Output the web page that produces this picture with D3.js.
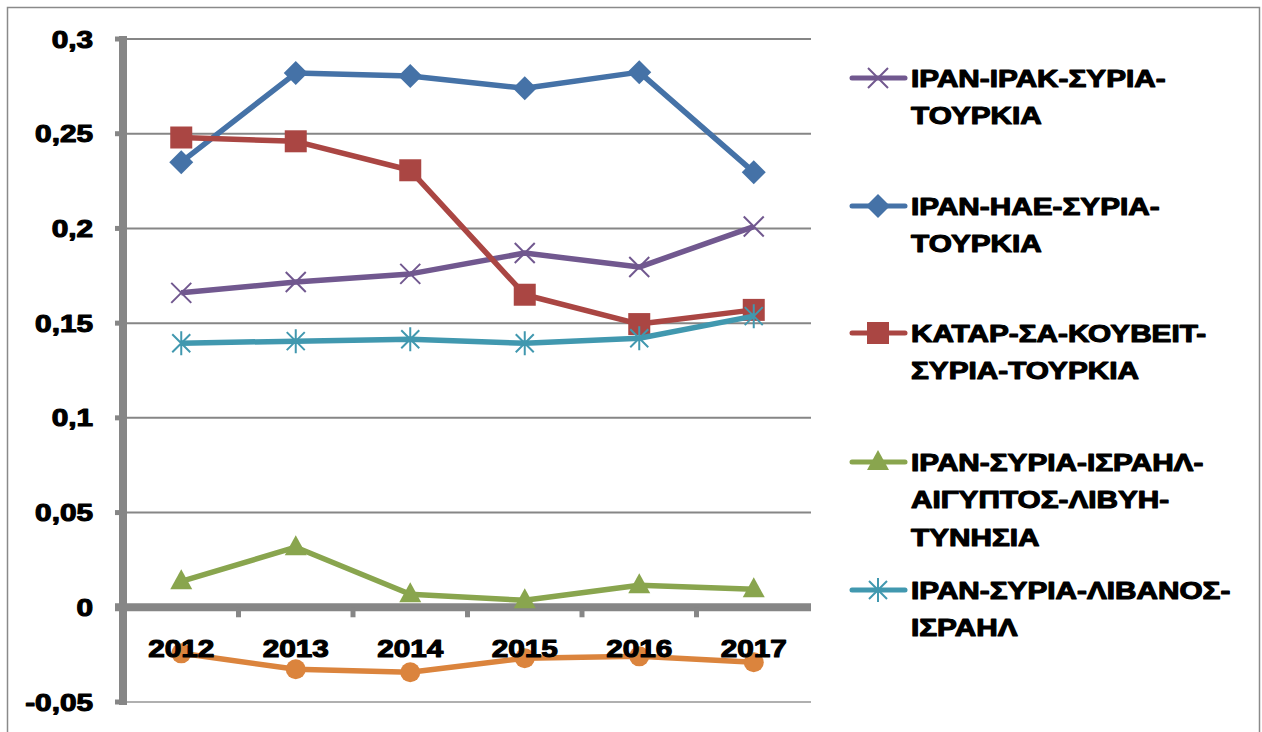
<!DOCTYPE html>
<html>
<head>
<meta charset="utf-8">
<script src="https://cdn.jsdelivr.net/npm/d3@7"></script>
<style>
  body { margin: 0; background: #fff; }
  .lbl { font-family: "Liberation Sans", Arial, sans-serif; font-weight: bold; fill: #000;
         stroke: #000; stroke-width: 1.1px; stroke-linejoin: round; }
</style>
</head>
<body>
<svg id="chart" width="1262" height="732"></svg>
<script>
// data
var years = ["2012", "2013", "2014", "2015", "2016", "2017"];
var yTicks = [0.3, 0.25, 0.2, 0.15, 0.1, 0.05, 0, -0.05];

var iranIraq    = [0.166, 0.1717, 0.176, 0.187, 0.1796, 0.201];
var iranUae     = [0.235, 0.282, 0.2805, 0.274, 0.2825, 0.2297];
var qatarSa     = [0.248, 0.246, 0.2307, 0.165, 0.1495, 0.157];
var iranEgypt   = [0.0137, 0.0317, 0.0069, 0.0037, 0.0116, 0.0095];
var iranLebanon = [0.1394, 0.1405, 0.1415, 0.1394, 0.142, 0.1537];
var unnamed     = [-0.0243, -0.0327, -0.0343, -0.0269, -0.0259, -0.029];

var legendLabels = [
  ["ΙΡΑΝ-ΙΡΑΚ-ΣΥΡΙΑ-", "ΤΟΥΡΚΙΑ"],
  ["ΙΡΑΝ-ΗΑΕ-ΣΥΡΙΑ-", "ΤΟΥΡΚΙΑ"],
  ["ΚΑΤΑΡ-ΣΑ-ΚΟΥΒΕΙΤ-", "ΣΥΡΙΑ-ΤΟΥΡΚΙΑ"],
  ["ΙΡΑΝ-ΣΥΡΙΑ-ΙΣΡΑΗΛ-", "ΑΙΓΥΠΤΟΣ-ΛΙΒΥΗ-", "ΤΥΝΗΣΙΑ"],
  ["ΙΡΑΝ-ΣΥΡΙΑ-ΛΙΒΑΝΟΣ-", "ΙΣΡΑΗΛ"]
];

var series = [
  { values: iranIraq,    color: "#71588F", marker: "x",        legend: 0 },
  { values: iranUae,     color: "#4572A7", marker: "diamond",  legend: 1 },
  { values: qatarSa,     color: "#AA4643", marker: "square",   legend: 2 },
  { values: iranEgypt,   color: "#89A54E", marker: "triangle", legend: 3 },
  { values: iranLebanon, color: "#4198AF", marker: "star",     legend: 4 },
  { values: unnamed,     color: "#DB843D", marker: "circle",   legend: null }
];

var svg = d3.select("#chart");
var axisGray = "#868686";
var stretch = 1.24; // the source text is wide and heavy

// writes a horizontally stretched bold label
function label(parent, tx, ty, str, anchor, size) {
  return parent.append("g")
    .attr("transform", "translate(" + tx + "," + ty + ") scale(" + stretch + ",1)")
    .append("text")
    .attr("class", "lbl")
    .attr("text-anchor", anchor)
    .style("font-size", size + "px")
    .text(str);
}

// outer frame
svg.append("rect")
  .attr("x", 7.5).attr("y", 7.5)
  .attr("width", 1252).attr("height", 740)
  .attr("fill", "none")
  .attr("stroke", "#8a8a8a")
  .attr("stroke-width", 1.5);

var plot = { left: 124, right: 811, top: 39, bottom: 702 };

var x = d3.scaleBand().domain(years).range([plot.left, plot.right]);
var y = d3.scaleLinear().domain([-0.05, 0.3]).range([plot.bottom, plot.top]);
var fmt = function(v) { return String(+v.toFixed(2)).replace(".", ","); };
var cx = function(i) { return x(years[i]) + x.bandwidth() / 2; };

// gridlines
svg.append("g").selectAll("line")
  .data(yTicks)
  .enter().append("line")
  .attr("x1", plot.left).attr("x2", plot.right)
  .attr("y1", function(d) { return y(d); })
  .attr("y2", function(d) { return y(d); })
  .attr("stroke", function(d) { return d === -0.05 ? "#b0b0b0" : axisGray; })
  .attr("stroke-width", 2);

// y axis: stub ticks and thick spine
svg.append("g").selectAll("line")
  .data(yTicks)
  .enter().append("line")
  .attr("x1", 115).attr("x2", plot.left)
  .attr("y1", function(d) { return y(d); })
  .attr("y2", function(d) { return y(d); })
  .attr("stroke", axisGray).attr("stroke-width", 5);
svg.append("line")
  .attr("x1", plot.left - 1).attr("x2", plot.left - 1)
  .attr("y1", plot.top - 3).attr("y2", plot.bottom + 3)
  .attr("stroke", axisGray).attr("stroke-width", 8);

var yLab = svg.append("g");
yTicks.forEach(function(t) {
  label(yLab, 93, y(t) + 8.5, fmt(t), "end", 24);
});

// x axis at zero
var zeroY = y(0);
svg.append("line")
  .attr("x1", 115).attr("x2", plot.right)
  .attr("y1", zeroY).attr("y2", zeroY)
  .attr("stroke", axisGray).attr("stroke-width", 8);
svg.append("g").selectAll("line")
  .data(years.slice(1))
  .enter().append("line")
  .attr("x1", function(d) { return x(d); })
  .attr("x2", function(d) { return x(d); })
  .attr("y1", zeroY).attr("y2", zeroY + 10)
  .attr("stroke", axisGray).attr("stroke-width", 5);

// marker drawing
function drawMarker(g, type, color) {
  if (type === "diamond") {
    g.append("path").attr("d", "M0,-12L12,0L0,12L-12,0Z").attr("fill", color);
  } else if (type === "square") {
    g.append("rect").attr("x", -11).attr("y", -11).attr("width", 22).attr("height", 22).attr("fill", color);
  } else if (type === "triangle") {
    g.append("path").attr("d", "M0,-12L11,8L-11,8Z").attr("fill", color);
  } else if (type === "circle") {
    g.append("circle").attr("r", 10).attr("fill", color);
  } else if (type === "x") {
    g.append("path").attr("d", "M-10,-10L10,10M-10,10L10,-10")
      .attr("stroke", color).attr("stroke-width", 2).attr("fill", "none");
  } else if (type === "star") {
    g.append("path").attr("d", "M-9,-9L9,9M-9,9L9,-9M0,-12L0,12")
      .attr("stroke", color).attr("stroke-width", 2).attr("fill", "none");
  }
}

var line = d3.line()
  .x(function(d, i) { return cx(i); })
  .y(function(d) { return y(d); });

series.forEach(function(s) {
  var g = svg.append("g");
  g.append("path")
    .attr("d", line(s.values))
    .attr("fill", "none")
    .attr("stroke", s.color)
    .attr("stroke-width", 5.5)
    .attr("stroke-linejoin", "round");
  s.values.forEach(function(v, i) {
    var m = g.append("g").attr("transform", "translate(" + cx(i) + "," + y(v) + ")");
    drawMarker(m, s.marker, s.color);
  });
});

// x labels sit on top of the lines
var xLab = svg.append("g");
years.forEach(function(yr, i) {
  label(xLab, cx(i), 657, yr, "middle", 24);
});

// legend
var legendTop = [78, 206, 333, 462, 590];
var lineGap = 37.5;
series.forEach(function(s) {
  if (s.legend === null) return;
  var ly = legendTop[s.legend];
  var g = svg.append("g");
  g.append("line")
    .attr("x1", 852).attr("x2", 905)
    .attr("y1", ly).attr("y2", ly)
    .attr("stroke", s.color).attr("stroke-width", 5)
    .attr("stroke-linecap", "round");
  var m = g.append("g").attr("transform", "translate(878," + ly + ")");
  drawMarker(m, s.marker, s.color);
  legendLabels[s.legend].forEach(function(t, k) {
    label(g, 911, ly + k * lineGap + 8.5, t, "start", 24);
  });
});
</script>
</body>
</html>
